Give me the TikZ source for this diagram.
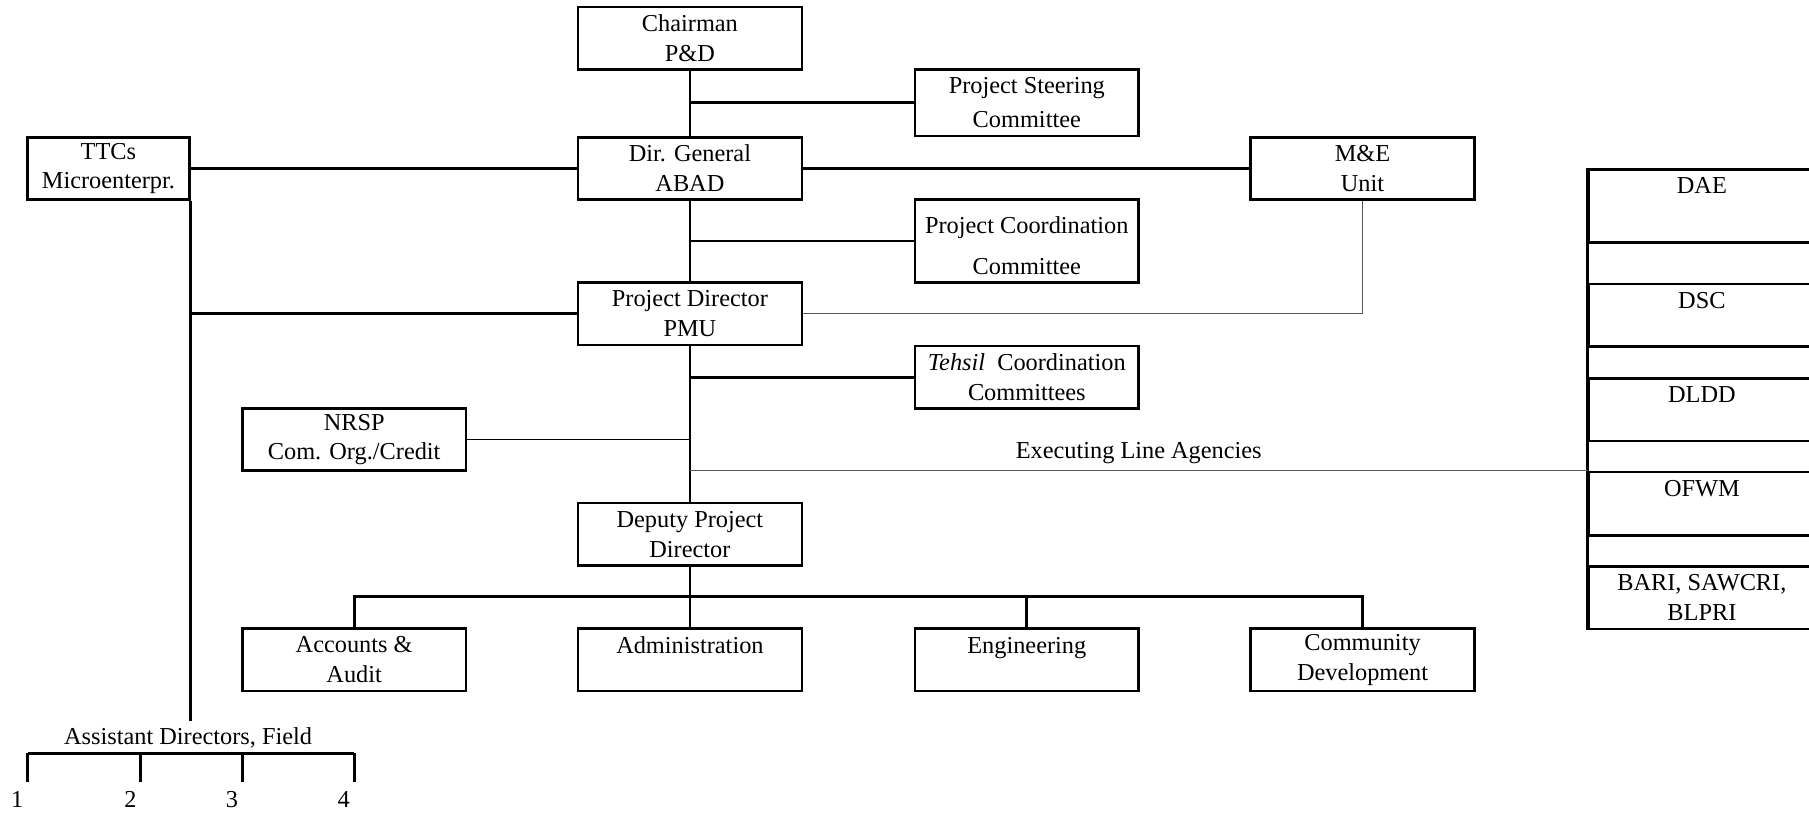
\documentclass[tikz,border=0pt]{standalone}
\usepackage{fontspec}
\setmainfont{Liberation Serif}
\usepackage{tikz}
\tikzstyle{unit} = [draw, line width=1.3pt, minimum width=38.8mm, minimum height=10.8mm, inner sep=0pt, align=center]
\tikzstyle{agency} = [unit, anchor=north west, minimum width=39.2mm]
\tikzstyle{link} = [line width=1.3pt]
\tikzstyle{thinlink} = [line width=0.6pt, gray!70!black]

\begin{document}
\begin{tikzpicture}[x=0.2mm, y=-0.2mm, font=\fontsize{12}{14.7}\selectfont]
        \useasboundingbox (0,0) rectangle (1568,708);
        \clip (0,0) rectangle (1568,708);
        \node[unit] (chair) at (598,33) {Chairman\\P\&D};
        \node[unit, minimum height=11.6mm] (psc) at (890,89) {Project Steering\\[0.8mm]Committee};
        \node[unit] (dg) at (598,146) {Dir. General\\ABAD};
        \node[unit, minimum width=28mm] (ttc) at (94,146) {TTCs\\Microenterpr.};
        \node[unit] (me) at (1181,146) {M\&E\\Unit};
        \node[unit, minimum height=14.4mm] (pcc) at (890,209) {\rule{0pt}{4.5mm}Project Coordination\\[2mm]Committee};
        \node[unit] (pd) at (598,272) {Project Director\\PMU};
        \node[unit] (tcc) at (890,327) {\textit{Tehsil}\enspace Coordination\\Committees};
        \node[unit] (nrsp) at (307,381) {NRSP\\Com. Org./Credit};
        \node[unit] (dpd) at (598,463) {Deputy Project\\Director};
        \node[unit] (acc) at (307,572) {Accounts \&\\Audit};
        \node[unit] (adm) at (598,572) {Administration\\~};
        \node[unit] (eng) at (890,572) {Engineering\\~};
        \node[unit] (cd) at (1181,572) {Community\\Development};

        \node[agency, minimum height=12.6mm] (dae) at (1376,146) {DAE\\[2mm]~};
        \node[agency] (dsc) at (1376,245) {DSC\\~};
        \node[agency] (dldd) at (1376,327) {DLDD\\~};
        \node[agency, minimum height=11mm] (ofwm) at (1376,408) {OFWM\\~};
        \node[agency] (bari) at (1376,490) {BARI, SAWCRI,\\BLPRI};
        \draw[link] (dae.north west) -- (bari.south west);

        \node (ad) at (163,640) {Assistant Directors, Field};

        \draw[link] (chair) -- (dg) -- (pd) -- (dpd) -- (adm);
        \draw[link] (psc.west) -- (psc.west -| chair.south);
        \draw[link] (pcc.west) -- (pcc.west -| dg.south);
        \draw[link] (tcc.west) -- (tcc.west -| pd.south);
        \draw[link] (ttc) -- (dg);
        \draw[link] (dg) -- (me);
        \draw[link] (ttc.south east) -- (ttc.south east |- ad.north);
        \draw[link] (pd.west) -- (pd.west -| ttc.south east);
        \draw[thinlink] (pd.east) -| (me.south);
        \draw[thinlink, black] (nrsp.east) -- (nrsp.east -| pd.south);
        \draw[thinlink] (ofwm.north west -| pd.south) -- node[above, black] {Executing Line Agencies} (ofwm.north west);
        \coordinate (bus) at (598,517);
        \draw[link] (acc.north) |- (bus) -| (cd.north);
        \draw[link] (eng.north) -- (eng.north |- bus);

        \foreach \n/\x in {1/24, 2/122, 3/210, 4/307} {
                \coordinate (t\n) at (\x,653);
                \draw[link] (t\n) -- ++(0,25);
                \node (n\n) at (\x-9,693) {\n};
        }
        \draw[link] (t1) -- (t4);
\end{tikzpicture}
\end{document}
